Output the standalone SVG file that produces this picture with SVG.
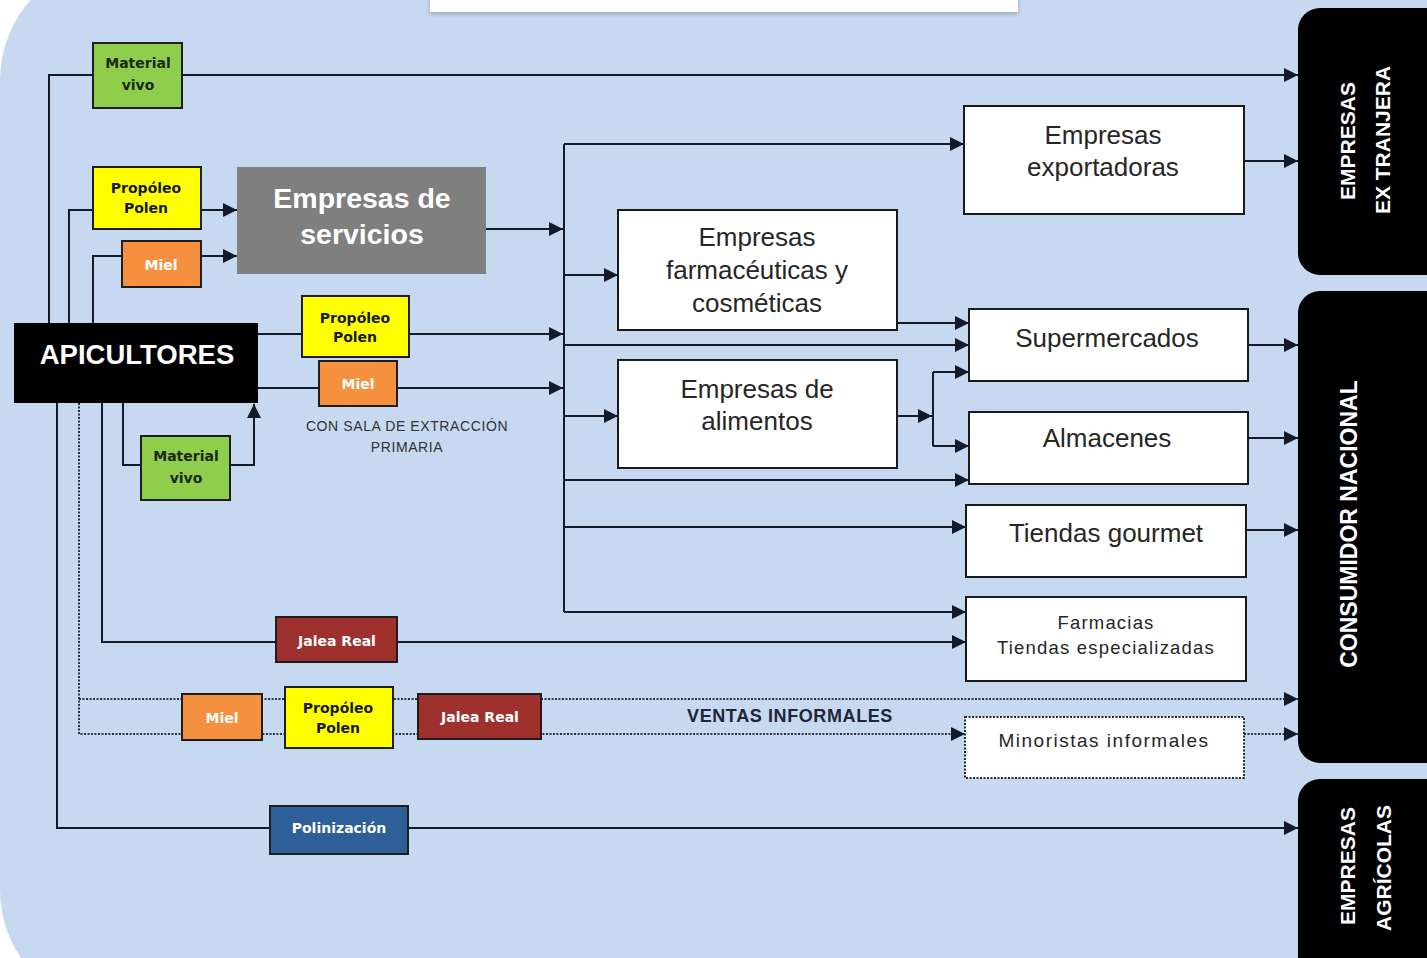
<svg xmlns="http://www.w3.org/2000/svg" width="1427" height="958" viewBox="0 0 1427 958">
<defs>
<marker id="ar" markerUnits="userSpaceOnUse" markerWidth="16" markerHeight="16" refX="14" refY="7" orient="auto"><path d="M0,0 L14,7 L0,14 z" fill="#141a2a"/></marker>
<filter id="sh" x="-5%" y="-50%" width="110%" height="250%"><feGaussianBlur in="SourceAlpha" stdDeviation="2"/><feOffset dy="2"/><feComponentTransfer><feFuncA type="linear" slope="0.25"/></feComponentTransfer><feMerge><feMergeNode/><feMergeNode in="SourceGraphic"/></feMerge></filter>
</defs>
<style>
.ln{fill:none;stroke:#141a2a;stroke-width:2}
.dt{fill:none;stroke:#2a3040;stroke-width:2;stroke-dasharray:2,1.5}
.wb{fill:#ffffff;stroke:#1a1a1a;stroke-width:2}
.sb{stroke:#1e1e1e;stroke-width:2}
.bk{fill:#000000}
.t1{font-family:"Liberation Sans",Arial,sans-serif;font-size:26px;fill:#262626;text-anchor:middle}
.t2{font-family:"Liberation Sans",Arial,sans-serif;font-size:18.5px;fill:#262626;text-anchor:middle;letter-spacing:1.2px}
.sm{font-family:"DejaVu Sans",Verdana,sans-serif;font-weight:bold;font-size:14px;text-anchor:middle}
.vt{font-family:"Liberation Sans",Arial,sans-serif;font-weight:bold;font-size:21px;fill:#ffffff;text-anchor:middle}
</style>
<rect x="0" y="0" width="1427" height="958" fill="#ffffff"/>
<rect x="0" y="-40" width="1520" height="1050" rx="120" ry="120" fill="#c6d9f0"/>
<rect x="430" y="-4" width="588" height="16" fill="#ffffff" filter="url(#sh)"/>

<g id="connectors">
<path class="ln" d="M49,323 V75 H1298" marker-end="url(#ar)"/>
<path class="ln" d="M69,323 V210 H237" marker-end="url(#ar)"/>
<path class="ln" d="M93,323 V256 H237" marker-end="url(#ar)"/>
<path class="ln" d="M486,229 H563" marker-end="url(#ar)"/>
<path class="ln" d="M258,334 H563" marker-end="url(#ar)"/>
<path class="ln" d="M258,388 H563" marker-end="url(#ar)"/>
<path class="ln" d="M123,403 V465 H254 V404" marker-end="url(#ar)"/>
<path class="ln" d="M564,144 V612"/>
<path class="ln" d="M564,144 H964" marker-end="url(#ar)"/>
<path class="ln" d="M564,275 H618" marker-end="url(#ar)"/>
<path class="ln" d="M564,345 H969" marker-end="url(#ar)"/>
<path class="ln" d="M564,416 H618" marker-end="url(#ar)"/>
<path class="ln" d="M564,480 H969" marker-end="url(#ar)"/>
<path class="ln" d="M564,527 H966" marker-end="url(#ar)"/>
<path class="ln" d="M564,612 H966" marker-end="url(#ar)"/>
<path class="ln" d="M897,323 H969" marker-end="url(#ar)"/>
<path class="ln" d="M897,416 H932" marker-end="url(#ar)"/>
<path class="ln" d="M933,372 V446"/>
<path class="ln" d="M933,372 H969" marker-end="url(#ar)"/>
<path class="ln" d="M933,446 H969" marker-end="url(#ar)"/>
<path class="ln" d="M1244,161 H1298" marker-end="url(#ar)"/>
<path class="ln" d="M1248,345 H1298" marker-end="url(#ar)"/>
<path class="ln" d="M1248,438 H1298" marker-end="url(#ar)"/>
<path class="ln" d="M1246,530 H1298" marker-end="url(#ar)"/>
<path class="ln" d="M102,403 V642 H966" marker-end="url(#ar)"/>
<path class="ln" d="M57,403 V828 H1298" marker-end="url(#ar)"/>
<path class="dt" d="M79,403 V734 H965" marker-end="url(#ar)"/>
<path class="dt" d="M79,699 H1298" marker-end="url(#ar)"/>
<path class="dt" d="M1244,734 H1298" marker-end="url(#ar)"/>
</g>

<g id="material-vivo-1"><rect class="sb" x="93" y="43" width="89" height="65" fill="#8fcd4c"/><text class="sm" x="138" y="68" fill="#1a2a10">Material</text><text class="sm" x="138" y="90" fill="#1a2a10">vivo</text></g>
<g id="propoleo-1"><rect class="sb" x="93" y="167" width="108" height="62" fill="#ffff00"/><text class="sm" x="146" y="193" fill="#1a1a1a">Propóleo</text><text class="sm" x="146" y="213" fill="#1a1a1a">Polen</text></g>
<g id="miel-1"><rect class="sb" x="122" y="241" width="79" height="46" fill="#f5913e"/><text class="sm" x="161" y="270" fill="#ffffff">Miel</text></g>
<g id="empresas-servicios"><rect x="237" y="167" width="249" height="107" fill="#7f7f7f"/><text x="362" y="208" font-family="Liberation Sans, Arial, sans-serif" font-weight="bold" font-size="28.5" fill="#ffffff" text-anchor="middle">Empresas de</text><text x="362" y="244" font-family="Liberation Sans, Arial, sans-serif" font-weight="bold" font-size="28.5" fill="#ffffff" text-anchor="middle">servicios</text></g>
<g id="apicultores"><rect class="bk" x="14" y="323" width="244" height="80"/><text x="137" y="364" font-family="Liberation Sans, Arial, sans-serif" font-weight="bold" font-size="27.5" fill="#ffffff" text-anchor="middle">APICULTORES</text></g>
<g id="propoleo-2"><rect class="sb" x="302" y="296" width="107" height="61" fill="#ffff00"/><text class="sm" x="355" y="323" fill="#1a1a1a">Propóleo</text><text class="sm" x="355" y="342" fill="#1a1a1a">Polen</text></g>
<g id="miel-2"><rect class="sb" x="319" y="361" width="78" height="45" fill="#f5913e"/><text class="sm" x="358" y="389" fill="#ffffff">Miel</text></g>
<g id="nota-sala"><text x="407" y="431" font-family="Liberation Sans, Arial, sans-serif" font-size="14" letter-spacing="0.6" fill="#333333" text-anchor="middle">CON SALA DE EXTRACCIÓN</text><text x="407" y="452" font-family="Liberation Sans, Arial, sans-serif" font-size="14" letter-spacing="0.6" fill="#333333" text-anchor="middle">PRIMARIA</text></g>
<g id="material-vivo-2"><rect class="sb" x="141" y="436" width="89" height="64" fill="#8fcd4c"/><text class="sm" x="186" y="461" fill="#1a2a10">Material</text><text class="sm" x="186" y="483" fill="#1a2a10">vivo</text></g>
<g id="jalea-1"><rect class="sb" x="276" y="617" width="121" height="45" fill="#9e302d"/><text class="sm" x="337" y="646" fill="#ffffff">Jalea Real</text></g>
<g id="miel-3"><rect class="sb" x="182" y="694" width="80" height="46" fill="#f5913e"/><text class="sm" x="222" y="723" fill="#ffffff">Miel</text></g>
<g id="propoleo-3"><rect class="sb" x="285" y="687" width="108" height="61" fill="#ffff00"/><text class="sm" x="338" y="713" fill="#1a1a1a">Propóleo</text><text class="sm" x="338" y="733" fill="#1a1a1a">Polen</text></g>
<g id="jalea-2"><rect class="sb" x="418" y="694" width="123" height="45" fill="#9e302d"/><text class="sm" x="480" y="722" fill="#ffffff">Jalea Real</text></g>
<g id="ventas-informales"><text x="790" y="722" font-family="Liberation Sans, Arial, sans-serif" font-weight="bold" font-size="18" letter-spacing="0.6" fill="#1f2638" text-anchor="middle">VENTAS INFORMALES</text></g>
<g id="polinizacion"><rect class="sb" x="270" y="806" width="138" height="48" fill="#2f5f98"/><text class="sm" x="339" y="833" fill="#ffffff">Polinización</text></g>

<g id="exportadoras"><rect class="wb" x="964" y="106" width="280" height="108"/><text class="t1" x="1103" y="144">Empresas</text><text class="t1" x="1103" y="176">exportadoras</text></g>
<g id="farmaceuticas"><rect class="wb" x="618" y="210" width="279" height="120"/><text class="t1" x="757" y="246">Empresas</text><text class="t1" x="757" y="279">farmacéuticas y</text><text class="t1" x="757" y="312">cosméticas</text></g>
<g id="supermercados"><rect class="wb" x="969" y="309" width="279" height="72"/><text class="t1" x="1107" y="347">Supermercados</text></g>
<g id="alimentos"><rect class="wb" x="618" y="360" width="279" height="108"/><text class="t1" x="757" y="398">Empresas de</text><text class="t1" x="757" y="430">alimentos</text></g>
<g id="almacenes"><rect class="wb" x="969" y="412" width="279" height="72"/><text class="t1" x="1107" y="447">Almacenes</text></g>
<g id="gourmet"><rect class="wb" x="966" y="505" width="280" height="72"/><text class="t1" x="1106" y="542">Tiendas gourmet</text></g>
<g id="farmacias"><rect class="wb" x="966" y="597" width="280" height="84"/><text class="t2" x="1106" y="629">Farmacias</text><text class="t2" x="1106" y="654">Tiendas especializadas</text></g>
<g id="minoristas"><rect x="965" y="717" width="279" height="61" fill="#ffffff" stroke="#2a2a2a" stroke-width="2" stroke-dasharray="2,1.5"/><text class="t2" x="1104" y="747" style="font-size:19px;letter-spacing:1.5px">Minoristas informales</text></g>

<g id="empresas-extranjera"><rect class="bk" x="1298" y="8" width="160" height="267" rx="22"/><text class="vt" transform="translate(1355,141) rotate(-90)">EMPRESAS</text><text class="vt" transform="translate(1390,140) rotate(-90)">EX TRANJERA</text></g>
<g id="consumidor-nacional"><rect class="bk" x="1298" y="291" width="160" height="472" rx="22"/><text class="vt" style="font-size:23px" transform="translate(1357,524) rotate(-90)">CONSUMIDOR NACIONAL</text></g>
<g id="empresas-agricolas"><rect class="bk" x="1298" y="779" width="160" height="220" rx="22"/><text class="vt" transform="translate(1355,866) rotate(-90)">EMPRESAS</text><text class="vt" transform="translate(1391,868) rotate(-90)">AGRÍCOLAS</text></g>
</svg>
